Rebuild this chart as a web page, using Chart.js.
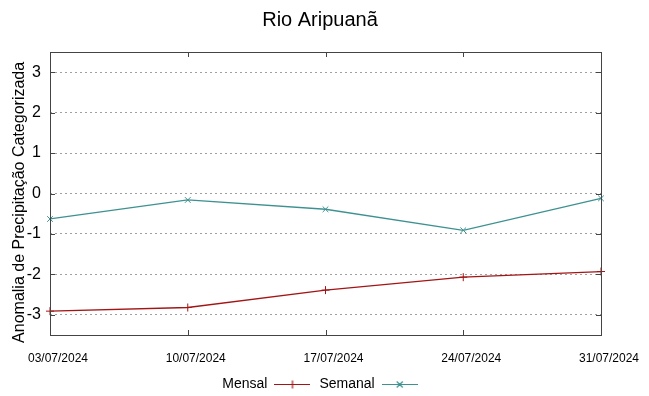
<!DOCTYPE html>
<html>
<head>
<meta charset="utf-8">
<script src="https://cdn.jsdelivr.net/npm/chart.js@4/dist/chart.umd.min.js"></script>
<style>
  html, body { margin: 0; padding: 0; background: #fff; }
  #wrap { width: 649px; height: 396px; }
</style>
</head>
<body>
<div id="wrap"><canvas id="rioChart" width="649" height="396"></canvas></div>
<script>
const dates = ['03/07/2024', '10/07/2024', '17/07/2024', '24/07/2024', '31/07/2024'];
const mensal = [-2.91, -2.82, -2.39, -2.07, -1.93];
const semanal = [-0.63, -0.16, -0.39, -0.91, -0.12];
const yTicks = [-3, -2, -1, 0, 1, 2, 3];

const redColor = '#a31515';
const tealColor = '#3d9191';

// legend sample: short line with the marker in the middle
function legendSample(color, style) {
    const c = document.createElement('canvas');
    c.width = 36; c.height = 12;
    const g = c.getContext('2d');
    g.strokeStyle = color;
    g.lineWidth = 1.2;
    g.beginPath();
    g.moveTo(0, 6.5); g.lineTo(36, 6.5);
    if (style === 'cross') {
        g.moveTo(18, 2.5); g.lineTo(18, 10.5);
    } else {
        g.moveTo(15, 3.5); g.lineTo(21, 9.5);
        g.moveTo(21, 3.5); g.lineTo(15, 9.5);
    }
    g.stroke();
    return c;
}

// gnuplot style frame with inward ticks
const framePlugin = {
    id: 'frame',
    afterDatasetsDraw(chart) {
        const { ctx, chartArea: a, scales } = chart;
        ctx.save();
        ctx.strokeStyle = '#444';
        ctx.lineWidth = 1;
        ctx.strokeRect(a.left + 0.5, a.top + 0.5, a.right - a.left, a.bottom - a.top);
        ctx.beginPath();
        scales.y.ticks.forEach(t => {
            const y = Math.round(scales.y.getPixelForValue(t.value)) + 0.5;
            ctx.moveTo(a.left, y); ctx.lineTo(a.left + 5, y);
            ctx.moveTo(a.right, y); ctx.lineTo(a.right - 5, y);
        });
        scales.x.ticks.forEach((t, i) => {
            const x = Math.round(scales.x.getPixelForTick(i)) + 0.5;
            ctx.moveTo(x, a.bottom); ctx.lineTo(x, a.bottom - 5);
            ctx.moveTo(x, a.top); ctx.lineTo(x, a.top + 5);
        });
        ctx.stroke();
        ctx.restore();
    }
};

Chart.defaults.font.family = '"Liberation Sans", Arial, sans-serif';
Chart.defaults.color = '#000';

const ctx = document.getElementById('rioChart').getContext('2d');
const rioChart = new Chart(ctx, {
    type: 'line',
    data: {
        labels: dates,
        datasets: [{
            label: 'Mensal',
            data: mensal,
            borderColor: redColor,
            backgroundColor: redColor,
            borderWidth: 1.3,
            pointStyle: 'cross',
            pointRadius: 4,
            pointBorderWidth: 1,
            pointHoverRadius: 4,
            tension: 0,
            fill: false,
            clip: 6
        }, {
            label: 'Semanal',
            data: semanal,
            borderColor: tealColor,
            backgroundColor: tealColor,
            borderWidth: 1.3,
            pointStyle: 'crossRot',
            pointRadius: 4,
            pointBorderWidth: 1,
            pointHoverRadius: 4,
            tension: 0,
            fill: false,
            clip: 6
        }]
    },
    options: {
        responsive: false,
        animation: false,
        layout: { padding: { left: 0, right: 9, top: 0, bottom: -5 } },
        scales: {
            x: {
                offset: false,
                grid: { display: false, drawTicks: false },
                border: { display: false },
                ticks: {
                    font: { size: 12 },
                    padding: 16,
                    labelOffset: 8,
                    maxRotation: 0,
                    autoSkip: false
                },
                afterFit: function(scale) {
                    scale.height = 33;
                    scale.paddingLeft = 0;
                    scale.paddingRight = 48;
                }
            },
            y: {
                min: -3.5,
                max: 3.5,
                afterBuildTicks: function(scale) {
                    scale.ticks = yTicks.map(v => ({ value: v }));
                },
                grid: {
                    color: '#a0a0a0',
                    lineWidth: 1,
                    drawTicks: false
                },
                border: { display: false, dash: [2, 3] },
                ticks: {
                    font: { size: 16 },
                    padding: 9
                },
                title: {
                    display: true,
                    text: 'Anomalia de Precipitação Categorizada\u00a0\u00a0\u00a0\u00a0',
                    font: { size: 16 },
                    padding: { top: 10, bottom: 0 }
                },
                afterFit: function(scale) { scale.width = 50; }
            }
        },
        plugins: {
            title: {
                display: true,
                text: 'Rio Aripuanã',
                font: { size: 20, weight: 'normal' },
                padding: { top: 8, bottom: 20 }
            },
            legend: {
                position: 'bottom',
                rtl: true,
                reverse: true,
                labels: {
                    font: { size: 14 },
                    usePointStyle: true,
                    pointStyleWidth: 36,
                    boxHeight: 12,
                    padding: 9,
                    generateLabels: function(chart) {
                        return chart.data.datasets.map((ds, i) => ({
                            text: ds.label,
                            pointStyle: legendSample(ds.borderColor, ds.pointStyle),
                            fillStyle: 'transparent',
                            strokeStyle: 'transparent',
                            lineWidth: 0,
                            fontColor: '#000',
                            datasetIndex: i,
                            hidden: false
                        }));
                    }
                }
            },
            tooltip: { enabled: false }
        }
    },
    plugins: [framePlugin]
});

// dotted horizontal grid
rioChart.options.scales.y.grid.tickBorderDash = [2, 3];
rioChart.options.scales.y.border.dash = [2, 3];
rioChart.update();
</script>
</body>
</html>
